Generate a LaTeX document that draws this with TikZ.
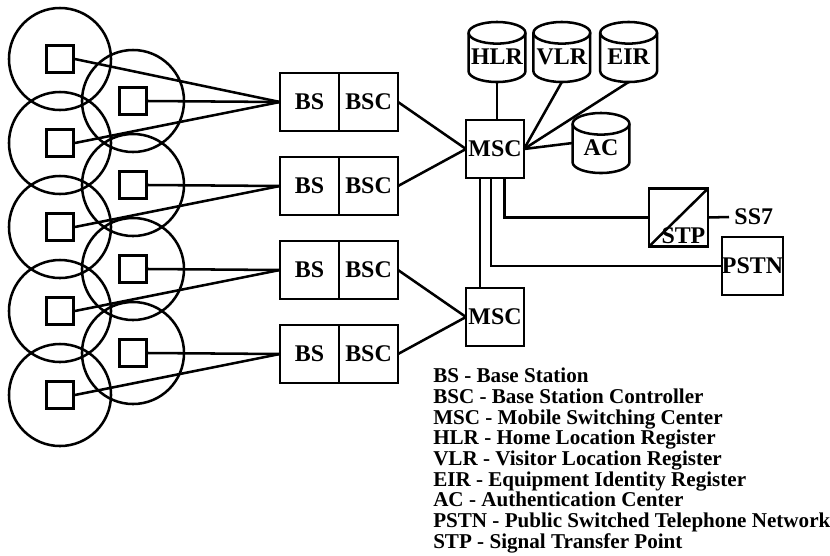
\documentclass[tikz,border=0pt]{standalone}
\usepackage{fontspec}
\setmainfont{Liberation Serif}
\usetikzlibrary{positioning, calc}

% database drum round a named box
\newcommand{\dbdraw}[1]{%
  \draw ([yshift=-0.27cm]#1.north) ellipse [x radius=0.71cm, y radius=0.27cm];
  \draw ([yshift=-0.27cm]#1.north west) -- ([yshift=0.27cm]#1.south west)
        arc [start angle=180, end angle=360, x radius=0.71cm, y radius=0.27cm]
        -- ([yshift=-0.27cm]#1.north east);
}

\begin{document}
\begin{tikzpicture}[
  x=0.025cm, y=-0.025cm,
  line width=1.8pt,
  cell/.style={draw, circle, minimum size=2.55cm, inner sep=0pt},
  mobile/.style={draw, rectangle, minimum size=0.675cm, inner sep=0pt},
  unit/.style={draw, rectangle, minimum width=1.475cm, minimum height=1.45cm, inner sep=0pt, outer sep=0pt, font=\fontsize{17}{18}\selectfont\bfseries},
  db/.style={rectangle, minimum width=1.42cm, minimum height=1.5cm, inner sep=0pt, outer sep=0pt, text height=0.6cm, text depth=0pt, font=\fontsize{17}{18}\selectfont\bfseries}
]
  \useasboundingbox (0,0) rectangle (830,555);

  % 1. Cells in two staggered columns, a mobile in each
  \foreach \i in {1,...,5} {
    \node[cell] (cl\i) at (60, {59+84*(\i-1)}) {};
    \node[mobile] (ml\i) at (cl\i) {};
  }
  \foreach \i in {1,...,4} {
    \node[cell] (cr\i) at (133, {101+84*(\i-1)}) {};
    \node[mobile] (mr\i) at (cr\i) {};
  }

  % 2. BS / BSC pairs
  \foreach \i in {1,...,4} {
    \node[unit] (bs\i) at (309.5, {102+84*(\i-1)}) {BS};
    \node[unit, right=0pt of bs\i] (bsc\i) {BSC};
  }

  % 3. Radio links from mobiles to base stations
  \draw (ml1.east) -- (bs1.west);
  \draw (mr1.east) -- (bs1.west);
  \draw (ml2.east) -- (bs1.west);
  \foreach \i/\j in {2/3, 3/4, 4/5} {
    \draw (mr\i.east) -- (bs\i.west);
    \draw (ml\j.east) -- (bs\i.west);
  }

  % 4. Switching centers
  \node[unit, minimum width=1.45cm] (msc1) at (495,149) {MSC};
  \node[unit, minimum width=1.45cm] (msc2) at (495,317) {MSC};

  \draw (bsc1.east) -- (msc1.west);
  \draw (bsc2.east) -- (msc1.west);
  \draw (bsc3.east) -- (msc2.west);
  \draw (bsc4.east) -- (msc2.west);

  % 5. Databases
  \node[db] (hlr) at (497,52) {HLR};
  \node[db, right=0.2cm of hlr] (vlr) {VLR};
  \node[db, right=0.25cm of vlr] (eir) {EIR};
  \node[db] (ac) at (601,143) {AC};
  \dbdraw{hlr} \dbdraw{vlr} \dbdraw{eir} \dbdraw{ac}

  \draw (hlr.south) -- (hlr.south |- msc1.north);
  \draw (vlr.south) -- (msc1.east);
  \draw (eir.south) -- (msc1.east);
  \draw (ac.west) -- (msc1.east);

  % 6. STP, SS7 and PSTN
  \node[unit] (stp) at (678.5,217.5) {};
  \draw (stp.south west) -- (stp.north east);
  \node[anchor=south east, inner sep=1pt, font=\fontsize{17}{18}\selectfont\bfseries] (stplabel) at (stp.south east) {STP};
  \node[anchor=west, inner sep=3pt, font=\fontsize{17}{18}\selectfont\bfseries] (ss7) at (729,217) {SS7};
  \draw (stp.east) -- (ss7.west);

  \node[unit] (pstn) at (752.5,266) {PSTN};

  \coordinate (d1) at ($ (msc1.south west) !0.24! (msc1.south east) $);
  \coordinate (d2) at ($ (msc1.south west) !0.43! (msc1.south east) $);
  \coordinate (d3) at ($ (msc1.south west) !0.66! (msc1.south east) $);
  \draw (d1) -- (d1 |- msc2.north);
  \draw (d2) |- (pstn.west);
  \draw (d3) |- (stp.west);

  % 7. Legend
  \node[anchor=north west, align=left, inner sep=0pt, font=\fontsize{15}{14.7}\selectfont\bfseries] (key) at (432,367) {%
    BS - Base Station\\
    BSC - Base Station Controller\\
    MSC - Mobile Switching Center\\
    HLR - Home Location Register\\
    VLR - Visitor Location Register\\
    EIR - Equipment Identity Register\\
    AC - Authentication Center\\
    PSTN - Public Switched Telephone Network\\
    STP - Signal Transfer Point};

\end{tikzpicture}
\end{document}
